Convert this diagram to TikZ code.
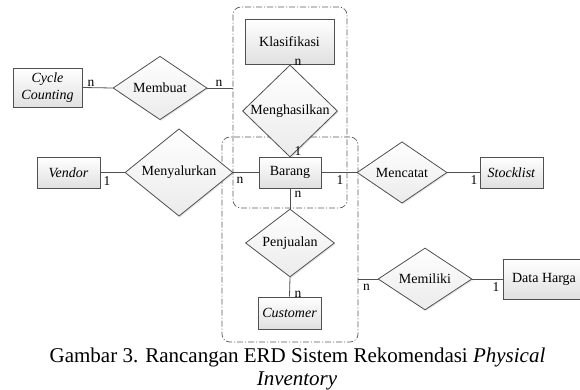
\documentclass[tikz,border=0pt]{standalone}
\usepackage{fontspec}
\setmainfont{Liberation Serif}
\usetikzlibrary{shapes.geometric,shadows}
\definecolor{edgegray}{HTML}{505050}
\definecolor{dashgray}{HTML}{5A5A5A}
\tikzset{
  ent/.style={rectangle, draw=edgegray, line width=0.8pt, top color=white, bottom color=black!12,
     drop shadow={shadow xshift=1.2pt, shadow yshift=-1.2pt, opacity=0.25},
     inner sep=1pt, font=\fontsize{14}{15}\selectfont, align=center},
  rel/.style={diamond, draw=edgegray, line width=0.8pt, top color=white, bottom color=black!8,
     drop shadow={shadow xshift=1.2pt, shadow yshift=-1.2pt, opacity=0.2},
     inner sep=0pt, font=\fontsize{14}{15}\selectfont},
  grp/.style={rectangle, draw=dashgray, line width=0.7pt, rounded corners=8pt,
     dash pattern=on 6pt off 2pt on 1pt off 2pt},
  conn/.style={draw=edgegray, line width=0.8pt},
  lab/.style={inner sep=0pt, font=\fontsize{13.5}{14}\selectfont}
}
\begin{document}
\begin{tikzpicture}[x=1pt,y=-1pt]
\useasboundingbox (0,0) rectangle (580,390);
% groups
\node[grp, minimum width=114pt, minimum height=201pt] (g1) at (290,107.5) {};
\node[grp, minimum width=136pt, minimum height=205pt] (g2) at (290,239.5) {};
% entities
\node[ent, minimum width=89pt, minimum height=45pt] (kla) at (289.5,41.5) {Klasifikasi};
\node[ent, minimum width=62pt, minimum height=31pt] (bar) at (290,172.5) {Barang};
\node[ent, minimum width=63pt, minimum height=32pt] (cus) at (289.5,313) {\textit{Customer}};
\node[ent, minimum width=69pt, minimum height=39pt, font=\fontsize{14}{17}\selectfont] (cyc) at (47.5,87.5) {\textit{Cycle}\\\textit{Counting}};
\node[ent, minimum width=63pt, minimum height=31pt] (ven) at (68.5,172.5) {\textit{Vendor}};
\node[ent, minimum width=63pt, minimum height=31pt] (sto) at (511.5,172.5) {\textit{Stocklist}};
\node[ent, minimum width=82pt, minimum height=40pt] (har) at (544,279) {Data Harga};
% relationships
\node[rel, minimum width=95pt, minimum height=52pt] (men) at (290,111) {Menghasilkan};
\node[rel, minimum width=89pt, minimum height=58pt] (pen) at (290,243) {Penjualan};
\node[rel, minimum width=94pt, minimum height=55pt] (mem) at (160,88) {Membuat};
\node[rel, minimum width=108pt, minimum height=56pt] (mny) at (179,172.5) {Menyalurkan};
\node[rel, minimum width=90pt, minimum height=46pt] (mct) at (402,172.5) {Mencatat};
\node[rel, minimum width=94pt, minimum height=48pt] (mil) at (425,279) {Memiliki};
% connectors
\draw[conn] (kla.south) -- (men.north);
\draw[conn] (men.south) -- (bar.north);
\draw[conn] (bar.south) -- (pen.north);
\draw[conn] (pen.south) -- (cus.north);
\draw[conn] (cyc.east) -- (mem.west);
\draw[conn] (mem.east) -- (mem.east -| g1.west);
\draw[conn] (ven.east) -- (mny.west);
\draw[conn] (mny.east) -- (bar.west);
\draw[conn] (bar.east) -- (mct.west);
\draw[conn] (mct.east) -- (sto.west);
\draw[conn] (mil.west -| g2.east) -- (mil.west);
\draw[conn] (mil.east) -- (har.west);
% cardinalities
\node[lab] (l1) at (91,83.5) {n};
\node[lab] (l2) at (219,83.5) {n};
\node[lab] (l3) at (298,62) {n};
\node[lab] (l4) at (298,151.5) {1};
\node[lab] (l5) at (107,181) {1};
\node[lab] (l6) at (240,180) {n};
\node[lab] (l7) at (340,180) {1};
\node[lab] (l8) at (474,180) {1};
\node[lab] (l9) at (298,194) {n};
\node[lab] (l10) at (298,294) {n};
\node[lab] (l11) at (366.5,287) {n};
\node[lab] (l12) at (496,287) {1};
% caption
\node[anchor=base, inner sep=0pt, font=\fontsize{21}{24}\selectfont] (cap1) at (297.5,362) {Gambar 3. Rancangan ERD Sistem Rekomendasi \textit{Physical}};
\node[anchor=base, inner sep=0pt, font=\fontsize{21}{24}\selectfont] (cap2) at (297,385) {\textit{Inventory}};
\end{tikzpicture}
\end{document}
